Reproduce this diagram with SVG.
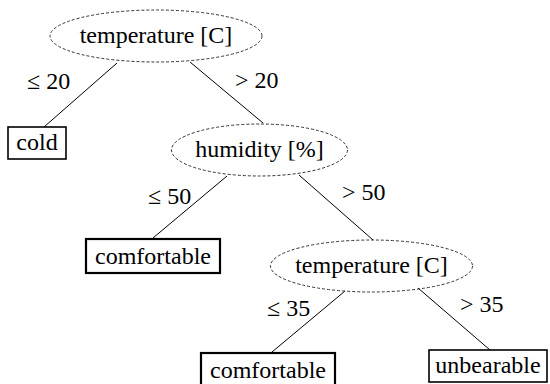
<svg xmlns="http://www.w3.org/2000/svg" width="550" height="384" viewBox="0 0 550 384">
<style>
.split ellipse{fill:none;stroke:#333;stroke-width:1;stroke-dasharray:3 2}
.leaf rect{fill:#fff;stroke:#000;stroke-width:1.6}
.leaf.thick rect{stroke-width:2.2}
#edges line{stroke:#000;stroke-width:1}
</style>
<rect width="550" height="384" fill="#fff"/>
<g id="edges">
<line x1="117" y1="63" x2="44" y2="127"/>
<line x1="190" y1="62" x2="263" y2="123"/>
<line x1="227" y1="176" x2="153" y2="238"/>
<line x1="299" y1="175" x2="373" y2="240"/>
<line x1="345" y1="291" x2="272" y2="352"/>
<line x1="418" y1="288" x2="490" y2="350"/>
<text x="27" y="89" font-family="Times New Roman, serif" font-size="24">&#8804; 20</text>
<text x="235" y="88" font-family="Times New Roman, serif" font-size="24">&gt; 20</text>
<text x="148" y="204" font-family="Times New Roman, serif" font-size="24">&#8804; 50</text>
<text x="342" y="200" font-family="Times New Roman, serif" font-size="24">&gt; 50</text>
<text x="267" y="316" font-family="Times New Roman, serif" font-size="24">&#8804; 35</text>
<text x="460" y="312" font-family="Times New Roman, serif" font-size="24">&gt; 35</text>
</g>
<g id="n1" class="split">
<ellipse cx="156" cy="36" rx="106" ry="26"/>
<text x="156" y="43" text-anchor="middle" font-family="Times New Roman, serif" font-size="24">temperature [C]</text>
</g>
<g id="n2" class="leaf">
<rect x="8" y="127" width="58" height="32"/>
<text x="37" y="150" text-anchor="middle" font-family="Times New Roman, serif" font-size="24">cold</text>
</g>
<g id="n3" class="split">
<ellipse cx="259.5" cy="150" rx="88" ry="26"/>
<text x="259.5" y="157" text-anchor="middle" font-family="Times New Roman, serif" font-size="24">humidity [%]</text>
</g>
<g id="n4" class="leaf thick">
<rect x="86" y="239" width="134" height="34"/>
<text x="153" y="264" text-anchor="middle" font-family="Times New Roman, serif" font-size="24">comfortable</text>
</g>
<g id="n5" class="split">
<ellipse cx="371.5" cy="266" rx="101" ry="26"/>
<text x="371.5" y="273" text-anchor="middle" font-family="Times New Roman, serif" font-size="24">temperature [C]</text>
</g>
<g id="n6" class="leaf thick">
<rect x="201" y="353" width="134" height="34"/>
<text x="268" y="378" text-anchor="middle" font-family="Times New Roman, serif" font-size="24">comfortable</text>
</g>
<g id="n7" class="leaf">
<rect x="429" y="350" width="118" height="32"/>
<text x="488" y="373" text-anchor="middle" font-family="Times New Roman, serif" font-size="24">unbearable</text>
</g>
</svg>
